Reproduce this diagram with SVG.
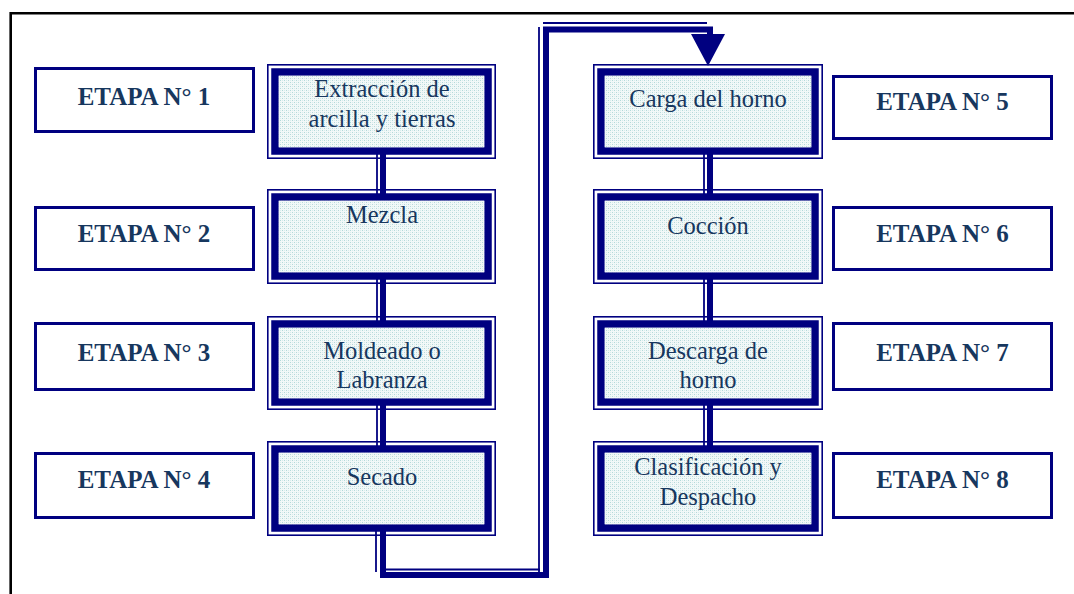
<svg xmlns="http://www.w3.org/2000/svg" width="1074" height="594" viewBox="0 0 1074 594">
  <style>
    .frame { fill: none; stroke: #000; stroke-width: 2.6; }
    .thin { fill: none; stroke: #000080; stroke-width: 1.6; }
    .thick { fill: none; stroke: #000080; stroke-width: 7.5; }
    .fill { fill: url(#dots); stroke: none; }
    .lbl { fill: #fff; stroke: #000080; stroke-width: 3; }
    .ptext { font-family: "Liberation Serif", "Times New Roman", serif; font-size: 24.5px; fill: #17375e; text-anchor: middle; }
    .etext { font-family: "Liberation Serif", "Times New Roman", serif; font-size: 25px; font-weight: bold; fill: #17375e; text-anchor: middle; }
    .cthin { fill: none; stroke: #000080; stroke-width: 1.8; }
    .cthick { fill: none; stroke: #000080; stroke-width: 6; }
  </style>
  <defs>
    <pattern id="dots" width="4" height="4" patternUnits="userSpaceOnUse">
      <rect width="4" height="4" fill="#f2f8f8"/>
      <rect x="0" y="0" width="1" height="1" fill="#b4d9d9"/>
      <rect x="2" y="2" width="1" height="1" fill="#b4d9d9"/>
      <rect x="2" y="0" width="1" height="1" fill="#d8ecec"/>
      <rect x="0" y="2" width="1" height="1" fill="#d8ecec"/>
    </pattern>
  </defs>

  <rect width="1074" height="594" fill="#fff"/>
  <path class="frame" d="M10.7,594 V13.3 H1074"/>

  <g id="connectors">
    <line class="cthin" x1="377" y1="150" x2="377" y2="197"/>
    <line class="cthick" x1="383" y1="150" x2="383" y2="197"/>
    <line class="cthin" x1="377" y1="276" x2="377" y2="324"/>
    <line class="cthick" x1="383" y1="276" x2="383" y2="324"/>
    <line class="cthin" x1="377" y1="402" x2="377" y2="449"/>
    <line class="cthick" x1="383" y1="402" x2="383" y2="449"/>
    <line class="cthin" x1="704" y1="150" x2="704" y2="197"/>
    <line class="cthick" x1="710" y1="150" x2="710" y2="197"/>
    <line class="cthin" x1="704" y1="276" x2="704" y2="324"/>
    <line class="cthick" x1="710" y1="276" x2="710" y2="324"/>
    <line class="cthin" x1="704" y1="402" x2="704" y2="449"/>
    <line class="cthick" x1="710" y1="402" x2="710" y2="449"/>
    <line class="cthin" x1="376" y1="528" x2="376" y2="572"/>
    <line class="cthin" x1="385" y1="569.5" x2="540" y2="569.5"/>
    <line class="cthin" x1="539" y1="572" x2="539" y2="27"/>
    <line class="cthin" x1="543" y1="23" x2="707" y2="23"/>
    <path class="cthick" d="M383,528 V575 H546 V29.5 H710 V36"/>
    <polygon points="691,34 725,34 708,66" fill="#000080"/>
  </g>

  <g id="n1">
    <rect class="thin" x="267.8" y="64.8" width="227.4" height="93.4"/>
    <rect class="thick" x="275" y="72" width="213" height="79"/>
    <rect class="fill" x="278.75" y="75.75" width="205.5" height="71.5"/>
    <text class="ptext" x="382" y="97">Extracción de</text>
    <text class="ptext" x="382" y="127">arcilla y tierras</text>
  </g>
  <g id="n2">
    <rect class="thin" x="267.8" y="189.8" width="227.4" height="93.4"/>
    <rect class="thick" x="275" y="197" width="213" height="79"/>
    <rect class="fill" x="278.75" y="200.75" width="205.5" height="71.5"/>
    <text class="ptext" x="382" y="223">Mezcla</text>
  </g>
  <g id="n3">
    <rect class="thin" x="267.8" y="316.8" width="227.4" height="92.4"/>
    <rect class="thick" x="275" y="324" width="213" height="78"/>
    <rect class="fill" x="278.75" y="327.75" width="205.5" height="70.5"/>
    <text class="ptext" x="382" y="359">Moldeado o</text>
    <text class="ptext" x="382" y="388">Labranza</text>
  </g>
  <g id="n4">
    <rect class="thin" x="267.8" y="441.8" width="227.4" height="93.4"/>
    <rect class="thick" x="275" y="449" width="213" height="79"/>
    <rect class="fill" x="278.75" y="452.75" width="205.5" height="71.5"/>
    <text class="ptext" x="382" y="485">Secado</text>
  </g>

  <g id="n5">
    <rect class="thin" x="593.8" y="64.8" width="228.4" height="93.4"/>
    <rect class="thick" x="601" y="72" width="214" height="79"/>
    <rect class="fill" x="604.75" y="75.75" width="206.5" height="71.5"/>
    <text class="ptext" x="708" y="107">Carga del horno</text>
  </g>
  <g id="n6">
    <rect class="thin" x="593.8" y="189.8" width="228.4" height="93.4"/>
    <rect class="thick" x="601" y="197" width="214" height="79"/>
    <rect class="fill" x="604.75" y="200.75" width="206.5" height="71.5"/>
    <text class="ptext" x="708" y="234">Cocción</text>
  </g>
  <g id="n7">
    <rect class="thin" x="593.8" y="316.8" width="228.4" height="92.4"/>
    <rect class="thick" x="601" y="324" width="214" height="78"/>
    <rect class="fill" x="604.75" y="327.75" width="206.5" height="70.5"/>
    <text class="ptext" x="708" y="359">Descarga de</text>
    <text class="ptext" x="708" y="388">horno</text>
  </g>
  <g id="n8">
    <rect class="thin" x="593.8" y="441.8" width="228.4" height="93.4"/>
    <rect class="thick" x="601" y="449" width="214" height="79"/>
    <rect class="fill" x="604.75" y="452.75" width="206.5" height="71.5"/>
    <text class="ptext" x="708" y="475">Clasificación y</text>
    <text class="ptext" x="708" y="505">Despacho</text>
  </g>

  <g id="etapa1">
    <rect class="lbl" x="35.5" y="68.5" width="218" height="63"/>
    <text class="etext" x="144" y="105">ETAPA N° 1</text>
  </g>
  <g id="etapa2">
    <rect class="lbl" x="35.5" y="207.5" width="218" height="62"/>
    <text class="etext" x="144" y="242">ETAPA N° 2</text>
  </g>
  <g id="etapa3">
    <rect class="lbl" x="35.5" y="323.5" width="218" height="66"/>
    <text class="etext" x="144" y="361">ETAPA N° 3</text>
  </g>
  <g id="etapa4">
    <rect class="lbl" x="35.5" y="453.5" width="218" height="64"/>
    <text class="etext" x="144" y="488">ETAPA N° 4</text>
  </g>
  <g id="etapa5">
    <rect class="lbl" x="833.5" y="76.5" width="218" height="62"/>
    <text class="etext" x="942.5" y="110">ETAPA N° 5</text>
  </g>
  <g id="etapa6">
    <rect class="lbl" x="833.5" y="207.5" width="218" height="62"/>
    <text class="etext" x="942.5" y="242">ETAPA N° 6</text>
  </g>
  <g id="etapa7">
    <rect class="lbl" x="833.5" y="323.5" width="218" height="66"/>
    <text class="etext" x="942.5" y="361">ETAPA N° 7</text>
  </g>
  <g id="etapa8">
    <rect class="lbl" x="833.5" y="453.5" width="218" height="64"/>
    <text class="etext" x="942.5" y="488">ETAPA N° 8</text>
  </g>
</svg>
